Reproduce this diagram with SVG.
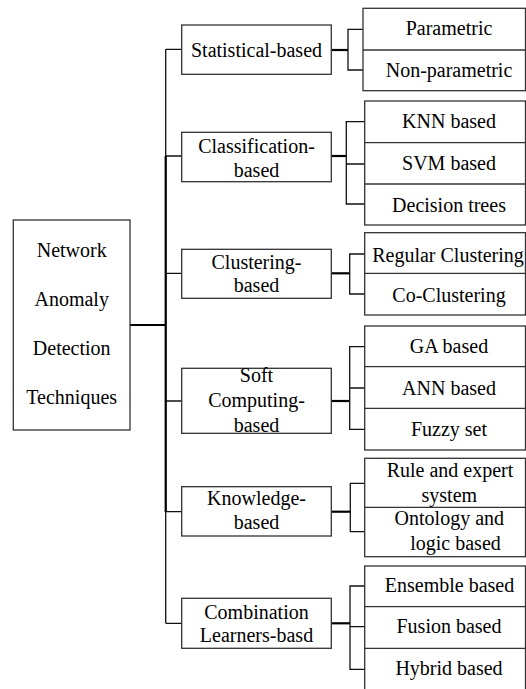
<svg xmlns="http://www.w3.org/2000/svg" width="526" height="689" viewBox="0 0 526 689">
<style>
.box{fill:#fff;stroke:#333;stroke-width:1.3}
.dv{stroke:#333;stroke-width:1.3}
.ln{stroke:#111;stroke-width:1.3;fill:none}
.thk{stroke:#000;stroke-width:2.2;fill:none}
.t{font-family:'Liberation Serif',serif;font-size:20px;fill:#000;text-anchor:middle}
</style>
<rect width="526" height="689" fill="#fff"/>
<g id="connectors">
<path class="ln" d="M165.7 49.3V623.3"/>
<path class="thk" d="M165.7 156V512"/>
<path class="thk" d="M130 325H165.7"/>
<path class="ln" d="M165.7 49.3H181.7M165.7 156H181.7M165.7 273.3H181.7M165.7 401H181.7M165.7 511.7H181.7M165.7 623.3H181.7"/>
<path class="thk" d="M331.3 50H348"/>
<path class="ln" d="M363 29.3H348V70H363"/>
<path class="thk" d="M331.3 156H346.3"/>
<path class="ln" d="M364.7 121.7H346.3V204H364.7M346.3 164H364.7"/>
<path class="thk" d="M331.3 273.3H349.7"/>
<path class="ln" d="M364.7 254H349.7V294H364.7"/>
<path class="thk" d="M331.3 401H349.7"/>
<path class="ln" d="M364.7 346.7H349.7V429.3H364.7M349.7 388H364.7"/>
<path class="thk" d="M331.3 511.7H350.3"/>
<path class="ln" d="M364.7 483.3H350.3V531.7H364.7"/>
<path class="thk" d="M331.3 623.3H350"/>
<path class="ln" d="M364.7 586H350V669.3H364.7M350 626.7H364.7"/>
</g>
<g id="root">
<rect class="box" x="13.3" y="220" width="116.7" height="210"/>
<text class="t" font-family="Liberation Serif" x="71.7" y="257">Network</text>
<text class="t" font-family="Liberation Serif" x="71.7" y="306">Anomaly</text>
<text class="t" font-family="Liberation Serif" x="71.7" y="355">Detection</text>
<text class="t" font-family="Liberation Serif" x="71.7" y="404">Techniques</text>
</g>
<g id="statistical">
<rect class="box" x="181.7" y="25" width="149.6" height="49.3"/>
<text class="t" font-family="Liberation Serif" x="256.5" y="56.5">Statistical-based</text>
</g>
<g id="classification">
<rect class="box" x="181.7" y="132.3" width="149.6" height="49.4"/>
<text class="t" font-family="Liberation Serif" x="256.5" y="153">Classification-</text>
<text class="t" font-family="Liberation Serif" x="256.5" y="177">based</text>
</g>
<g id="clustering">
<rect class="box" x="181.7" y="249.3" width="149.6" height="49"/>
<text class="t" font-family="Liberation Serif" x="256.5" y="268.5">Clustering-</text>
<text class="t" font-family="Liberation Serif" x="256.5" y="292">based</text>
</g>
<g id="soft">
<rect class="box" x="181.7" y="368.3" width="149.6" height="65"/>
<text class="t" font-family="Liberation Serif" x="256.5" y="381.5">Soft</text>
<text class="t" font-family="Liberation Serif" x="256.5" y="407">Computing-</text>
<text class="t" font-family="Liberation Serif" x="256.5" y="431.5">based</text>
</g>
<g id="knowledge">
<rect class="box" x="181.7" y="486.7" width="149.6" height="49.3"/>
<text class="t" font-family="Liberation Serif" x="256.5" y="505">Knowledge-</text>
<text class="t" font-family="Liberation Serif" x="256.5" y="528.5">based</text>
</g>
<g id="combination">
<rect class="box" x="181.7" y="598.3" width="149.6" height="50"/>
<text class="t" font-family="Liberation Serif" x="256.5" y="618.5">Combination</text>
<text class="t" font-family="Liberation Serif" x="256.5" y="641.5">Learners-basd</text>
</g>
<g id="stat-children">
<rect class="box" x="363" y="8.3" width="162.5" height="82.4"/>
<line class="dv" x1="363" y1="50" x2="525.5" y2="50"/>
<text class="t" font-family="Liberation Serif" x="449" y="35">Parametric</text>
<text class="t" font-family="Liberation Serif" x="449" y="77">Non-parametric</text>
</g>
<g id="class-children">
<rect class="box" x="364.7" y="101" width="160.8" height="124"/>
<path class="dv" d="M364.7 142.7H525.5M364.7 184H525.5"/>
<text class="t" font-family="Liberation Serif" x="449" y="128.3">KNN based</text>
<text class="t" font-family="Liberation Serif" x="449" y="170">SVM based</text>
<text class="t" font-family="Liberation Serif" x="449" y="211.5">Decision trees</text>
</g>
<g id="clust-children">
<rect class="box" x="364.7" y="232.7" width="160.8" height="82.3"/>
<line class="dv" x1="364.7" y1="273.3" x2="525.5" y2="273.3"/>
<text class="t" font-family="Liberation Serif" x="448" y="261.5">Regular Clustering</text>
<text class="t" font-family="Liberation Serif" x="449" y="301.5">Co-Clustering</text>
</g>
<g id="soft-children">
<rect class="box" x="364.7" y="326" width="160.8" height="124"/>
<path class="dv" d="M364.7 366.7H525.5M364.7 408.3H525.5"/>
<text class="t" font-family="Liberation Serif" x="449" y="353.3">GA based</text>
<text class="t" font-family="Liberation Serif" x="449" y="395">ANN based</text>
<text class="t" font-family="Liberation Serif" x="449" y="436">Fuzzy set</text>
</g>
<g id="know-children">
<rect class="box" x="364.7" y="458.3" width="160.8" height="98.4"/>
<line class="dv" x1="364.7" y1="507.3" x2="525.5" y2="507.3"/>
<text class="t" font-family="Liberation Serif" x="450" y="476.7">Rule and expert</text>
<text class="t" font-family="Liberation Serif" x="449.3" y="501.5">system</text>
<text class="t" font-family="Liberation Serif" x="449.3" y="525">Ontology and</text>
<text class="t" font-family="Liberation Serif" x="455.5" y="550">logic based</text>
</g>
<g id="comb-children">
<rect class="box" x="364.7" y="566" width="160.8" height="126"/>
<path class="dv" d="M364.7 606.7H525.5M364.7 648.3H525.5"/>
<text class="t" font-family="Liberation Serif" x="449.5" y="591.7">Ensemble based</text>
<text class="t" font-family="Liberation Serif" x="449" y="633.3">Fusion based</text>
<text class="t" font-family="Liberation Serif" x="449" y="675">Hybrid based</text>
</g>
</svg>
